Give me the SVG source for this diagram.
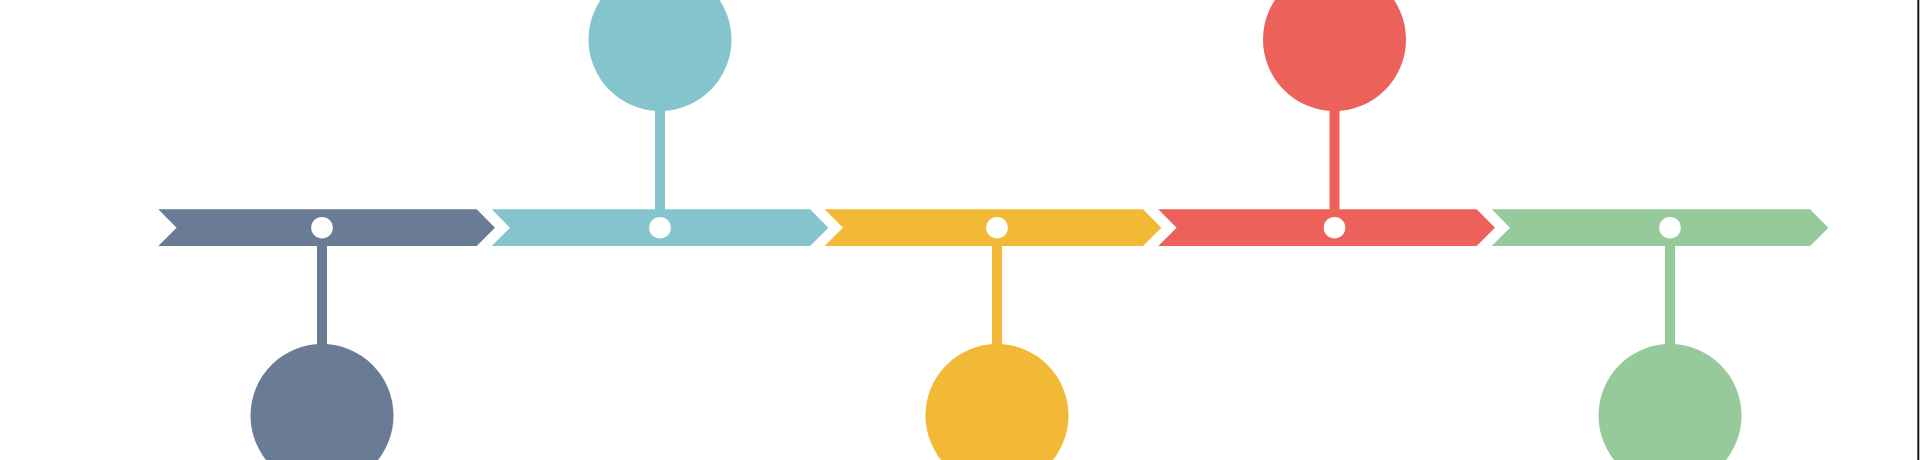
<svg xmlns="http://www.w3.org/2000/svg" width="1920" height="460" viewBox="0 0 1920 460">
<style>
.c1{fill:#6A7B96}.c2{fill:#84C5CD}.c3{fill:#F1B935}.c4{fill:#EC615A}.c5{fill:#97CA9A}
.dot{fill:#FFFFFF}
</style>
<defs>
<path id="chev" d="M0,0 H318.4 L336.7,18.35 L318.4,36.7 H0 L18.3,18.35 Z"/>
</defs>
<rect x="0" y="0" width="1920" height="460" fill="#FFFFFF"/>
<g id="connectors">
<rect class="c1" x="317" y="240" width="10" height="110"/>
<rect class="c2" x="655" y="100" width="10" height="115"/>
<rect class="c3" x="992" y="240" width="10" height="110"/>
<rect class="c4" x="1329.5" y="100" width="10" height="115"/>
<rect class="c5" x="1665" y="240" width="10" height="110"/>
</g>
<g id="step1">
<use href="#chev" class="c1" x="158.3" y="209.3"/>
<circle class="c1" cx="322" cy="415.5" r="71.5"/>
<circle class="dot" cx="322" cy="227.7" r="10.8"/>
</g>
<g id="step2">
<use href="#chev" class="c2" x="491.7" y="209.3"/>
<circle class="c2" cx="660" cy="39.5" r="71.5"/>
<circle class="dot" cx="660" cy="227.7" r="10.8"/>
</g>
<g id="step3">
<use href="#chev" class="c3" x="824.6" y="209.3"/>
<circle class="c3" cx="997" cy="415.5" r="71.5"/>
<circle class="dot" cx="997" cy="227.7" r="10.8"/>
</g>
<g id="step4">
<use href="#chev" class="c4" x="1158.3" y="209.3"/>
<circle class="c4" cx="1334.5" cy="39.5" r="71.5"/>
<circle class="dot" cx="1334.5" cy="227.7" r="10.8"/>
</g>
<g id="step5">
<use href="#chev" class="c5" x="1491.7" y="209.3"/>
<circle class="c5" cx="1670" cy="415.5" r="71.5"/>
<circle class="dot" cx="1670" cy="227.7" r="10.8"/>
</g>
<rect x="1917.3" y="0" width="2" height="460" fill="#1a1a1a"/>
</svg>
